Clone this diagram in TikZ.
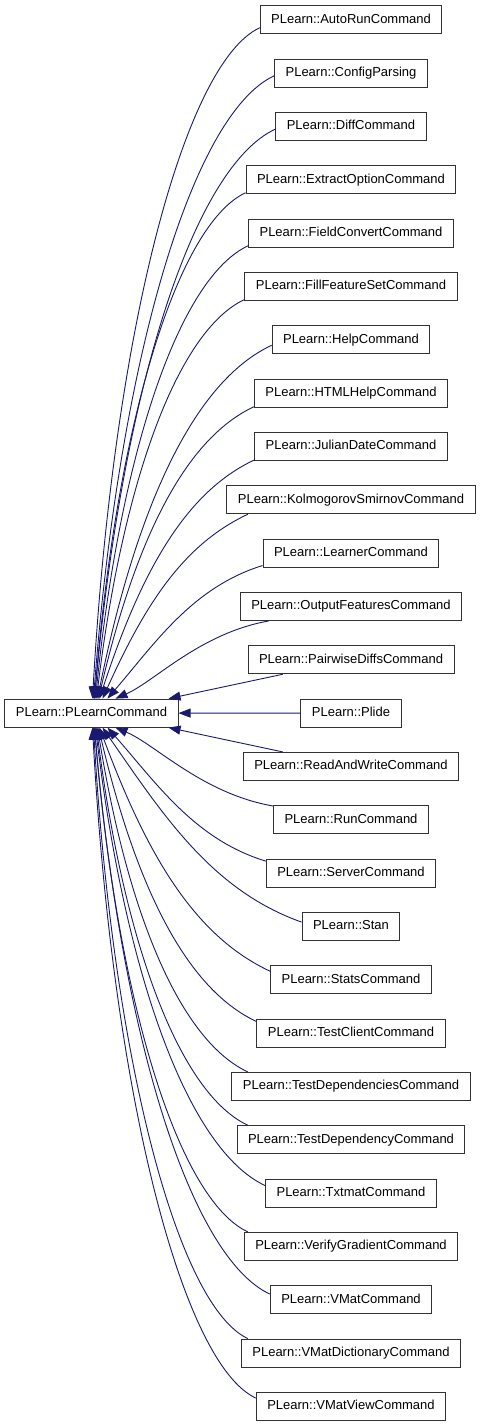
\documentclass[tikz,border=0pt]{standalone}
\usepackage{fontspec}
\setmainfont{Liberation Sans}
\usetikzlibrary{arrows.meta,calc}
\definecolor{edgeblue}{RGB}{25,25,112}
\tikzset{
  cls/.style={draw=black!80, line width=1pt, fill=white, minimum height=28pt,
    inner xsep=11pt, inner ysep=0pt, text height=9.4pt, text depth=2.6pt,
    font=\fontsize{13pt}{15pt}\selectfont},
  edge/.style={draw=edgeblue, line width=0.9pt, -{Triangle[length=12pt,width=9pt]}},
}
\newcommand\kidedge[2]{%
  \draw[edge] let \p1=(#1), \p2=(#2),
    \n1={atan(abs(\x1-\x2)/abs(\y1-\y2))^2/60},
    \n2={min(25,20*abs(\y1-\y2)/abs(\x1-\x2))},
    \n3={(\y1-\y2)/abs(\y1-\y2)} in
    (#1) .. controls ({\x1-0.45*(\x1-\x2)},{\y1-\n3*0.45*abs(\x1-\x2)*tan(\n2)})
      and ({\x2+0.55*abs(\y1-\y2)*sin(\n1)},{\y2+0.55*(\y1-\y2)*cos(\n1)}) .. (#2);}
\begin{document}
\begin{tikzpicture}[x=1pt,y=-1pt]
\useasboundingbox (0,0) rectangle (480,1427);
\node[cls, minimum width=173pt] (base) at (91.5,713.1) {PLearn::PLearnCommand};
\foreach \nm [count=\i from 0] in {AutoRunCommand, ConfigParsing, DiffCommand,
  ExtractOptionCommand, FieldConvertCommand, FillFeatureSetCommand, HelpCommand,
  HTMLHelpCommand, JulianDateCommand, KolmogorovSmirnovCommand, LearnerCommand,
  OutputFeaturesCommand, PairwiseDiffsCommand, Plide, ReadAndWriteCommand,
  RunCommand, ServerCommand, Stan, StatsCommand, TestClientCommand,
  TestDependenciesCommand, TestDependencyCommand, TxtmatCommand,
  VerifyGradientCommand, VMatCommand, VMatDictionaryCommand, VMatViewCommand}
  \node[cls] (c\i) at (351,{19.8+53.33*\i}) {PLearn::\nm};
% upper children
\foreach \i/\ang/\off in {0/185/88, 1/182/89, 2/182/90, 3/187/90, 4/187/91,
  5/187/92, 6/184/93, 7/188/94, 8/188/95, 9/188/98, 10/188/103, 11/190/111}
  \kidedge{c\i.\ang}{[xshift=\off pt]base.north west};
% lower children
\foreach \i/\ang/\off in {15/170/111, 16/172/103, 17/175/98, 18/174/95,
  19/173/94, 20/172/93, 21/172/92, 22/175/91, 23/172/90, 24/176/90,
  25/172/89, 26/175/88}
  \kidedge{c\i.\ang}{[xshift=\off pt]base.south west};
% nearest children
\draw[edge] (c12.192) -- ([xshift=-10pt]base.north east);
\draw[edge] (c13) -- (base);
\draw[edge] (c14.168) -- ([xshift=-10pt]base.south east);
\end{tikzpicture}
\end{document}
